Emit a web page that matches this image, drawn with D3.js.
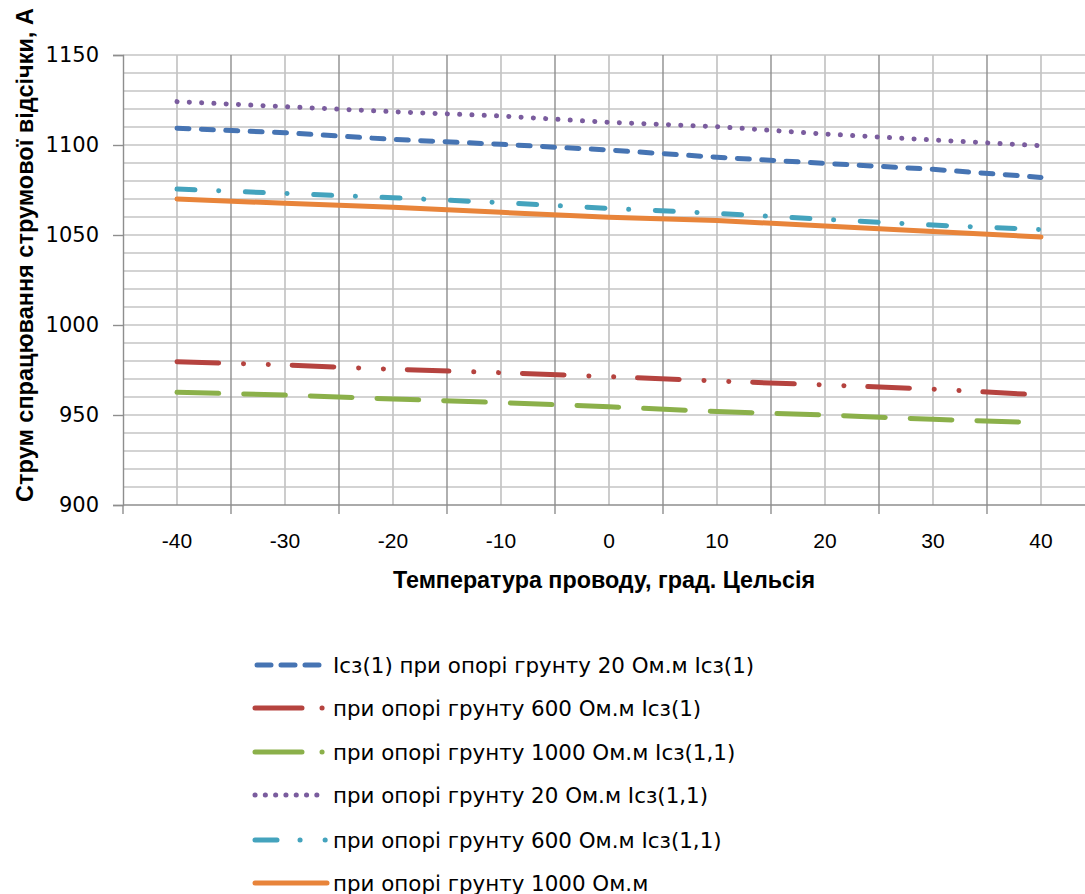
<!DOCTYPE html>
<html>
<head>
<meta charset="utf-8">
<script src="https://cdn.jsdelivr.net/npm/d3@7"></script>
<style>
  body { margin: 0; background: #fff; }
</style>
</head>
<body>
<svg id="chart" width="1085" height="894"></svg>
<script>
// temperature categories, deg C
const temps = [-40, -30, -20, -10, 0, 10, 20, 30, 40];
const yTicks = [900, 950, 1000, 1050, 1100, 1150];

// series values, A
const icz1_r20 = [1109.3, 1106.8, 1103.1, 1100.4, 1097.2, 1093.2, 1089.8, 1086.5, 1082.0];
const icz1_r600 = [979.6, 977.8, 975.4, 973.5, 971.3, 968.9, 966.7, 964.4, 961.1];
const icz1_r1000 = [962.6, 961.1, 958.9, 956.9, 954.6, 951.9, 950.0, 947.6, 945.7];
const icz11_r20 = [1124.1, 1121.3, 1118.5, 1116.1, 1112.6, 1110.2, 1106.1, 1102.8, 1099.6];
const icz11_r600 = [1075.5, 1073.1, 1070.7, 1068.0, 1064.8, 1062.0, 1058.7, 1055.5, 1053.0];
const icz11_r1000 = [1070.0, 1067.6, 1065.4, 1062.6, 1059.8, 1058.0, 1055.0, 1051.9, 1048.9];

const seriesNames = [
  "Icз(1) при опорі грунту 20 Ом.м Icз(1)",
  "при опорі грунту 600 Ом.м Icз(1)",
  "при опорі грунту 1000 Ом.м Icз(1,1)",
  "при опорі грунту 20 Ом.м Icз(1,1)",
  "при опорі грунту 600 Ом.м Icз(1,1)",
  "при опорі грунту 1000 Ом.м"
];

const xTitle = "Температура проводу, град. Цельсія";
const yTitle = "Струм спрацювання струмової відсічки, А";

// line look per series: colour, dash pattern on the plot, dash pattern in the legend
const styles = [
  { color: "#4674b3", dash: "12,12.4", key: "14,10" },
  { color: "#b5433f", dash: "41.7,24.8,0.1,24.7,0.1,23.8", key: "47,20,0.1,100" },
  { color: "#8bb04a", dash: "41.7,25", key: "47,20,0.1,100" },
  { color: "#7a5c9e", dash: "0.1,12.2", key: "0.1,10.2" },
  { color: "#44a3bd", dash: "18,23.7,0.1,26.6", key: "22,23,0.1,25,0.1,100" },
  { color: "#e8843a", dash: null, key: null }
];
const seriesValues = [icz1_r20, icz1_r600, icz1_r1000, icz11_r20, icz11_r600, icz11_r1000];

const svg = d3.select("#chart");
const m = { left: 123, top: 55, right: 1095, bottom: 505 };

const xBand = d3.scaleBand().domain(temps).range([m.left, m.right]).padding(0);
const x = d3.scalePoint().domain(temps).range([m.left, m.right]).padding(0.5);
const y = d3.scaleLinear().domain([900, 1150]).range([m.bottom, m.top]);

const grid = svg.append("g");
// horizontal minor grid every 10 A
grid.selectAll(".hg")
  .data(d3.range(910, 1151, 10))
  .join("line")
  .attr("x1", m.left).attr("x2", m.right)
  .attr("y1", (d) => y(d)).attr("y2", (d) => y(d))
  .attr("stroke", "#c4c4c4").attr("stroke-width", 1.7);
// light verticals at category centres
grid.selectAll(".vc")
  .data(temps)
  .join("line")
  .attr("x1", (d) => x(d)).attr("x2", (d) => x(d))
  .attr("y1", m.top).attr("y2", m.bottom)
  .attr("stroke", "#c4c4c4").attr("stroke-width", 1.7);
// darker verticals at category borders
grid.selectAll(".vb")
  .data(temps.slice(1))
  .join("line")
  .attr("x1", (d) => xBand(d)).attr("x2", (d) => xBand(d))
  .attr("y1", m.top).attr("y2", m.bottom)
  .attr("stroke", "#8e8e8e").attr("stroke-width", 1.4);

// axes
const yAxis = svg.append("g")
  .attr("transform", `translate(${m.left},0)`)
  .call(d3.axisLeft(y).tickValues(yTicks).tickFormat(d3.format("d")).tickSize(10).tickPadding(14));
yAxis.select(".domain").attr("stroke", "#8e8e8e").attr("stroke-width", 1.4);
yAxis.selectAll(".tick line").attr("stroke", "#8e8e8e").attr("stroke-width", 1.4);
yAxis.selectAll("text")
  .attr("font-family", "DejaVu Sans, Verdana, sans-serif")
  .attr("font-size", 21).attr("fill", "#000");

const xAxis = svg.append("g")
  .attr("transform", `translate(0,${m.bottom})`);
xAxis.append("line")
  .attr("x1", m.left).attr("x2", m.right)
  .attr("stroke", "#8e8e8e").attr("stroke-width", 1.4);
xAxis.selectAll(".xt")
  .data(temps)
  .join("line")
  .attr("x1", (d) => xBand(d)).attr("x2", (d) => xBand(d))
  .attr("y1", 0).attr("y2", 9)
  .attr("stroke", "#8e8e8e").attr("stroke-width", 1.4);
xAxis.selectAll(".xl")
  .data(temps)
  .join("text")
  .attr("x", (d) => x(d))
  .attr("y", 43)
  .attr("text-anchor", "middle")
  .attr("font-family", "Liberation Sans, Arial, sans-serif")
  .attr("font-size", 21)
  .text((d) => d);

// titles
svg.append("text")
  .attr("x", 604).attr("y", 588)
  .attr("text-anchor", "middle")
  .attr("font-family", "Liberation Sans, Arial, sans-serif")
  .attr("font-weight", "bold").attr("font-size", 23.3)
  .text(xTitle);
svg.append("text")
  .attr("transform", "translate(33,255) rotate(-90)")
  .attr("text-anchor", "middle")
  .attr("font-family", "Liberation Sans, Arial, sans-serif")
  .attr("font-weight", "bold").attr("font-size", 23.5)
  .text(yTitle);

// series
const line = d3.line()
  .x((d, i) => x(temps[i]))
  .y((d) => y(d));
svg.append("g")
  .selectAll("path")
  .data(seriesValues)
  .join("path")
  .attr("d", (d) => line(d))
  .attr("fill", "none")
  .attr("stroke", (d, i) => styles[i].color)
  .attr("stroke-width", 5)
  .attr("stroke-linecap", "round")
  .attr("stroke-dasharray", (d, i) => styles[i].dash);

// legend
const legendRows = [665, 708, 752, 795, 840, 883];
const lg = svg.append("g")
  .selectAll("g")
  .data(seriesNames)
  .join("g")
  .attr("transform", (d, i) => `translate(0,${legendRows[i]})`);
lg.append("line")
  .attr("x1", (d, i) => (i === 0 ? 257 : 255))
  .attr("x2", (d, i) => (i === 0 ? 319 : 327))
  .attr("stroke", (d, i) => styles[i].color)
  .attr("stroke-width", 5)
  .attr("stroke-linecap", "round")
  .attr("stroke-dasharray", (d, i) => styles[i].key);
lg.append("text")
  .attr("x", 333)
  .attr("dy", "0.35em")
  .attr("font-family", "DejaVu Sans, Verdana, sans-serif")
  .attr("font-size", 21.4)
  .text((d) => d);
</script>
</body>
</html>
